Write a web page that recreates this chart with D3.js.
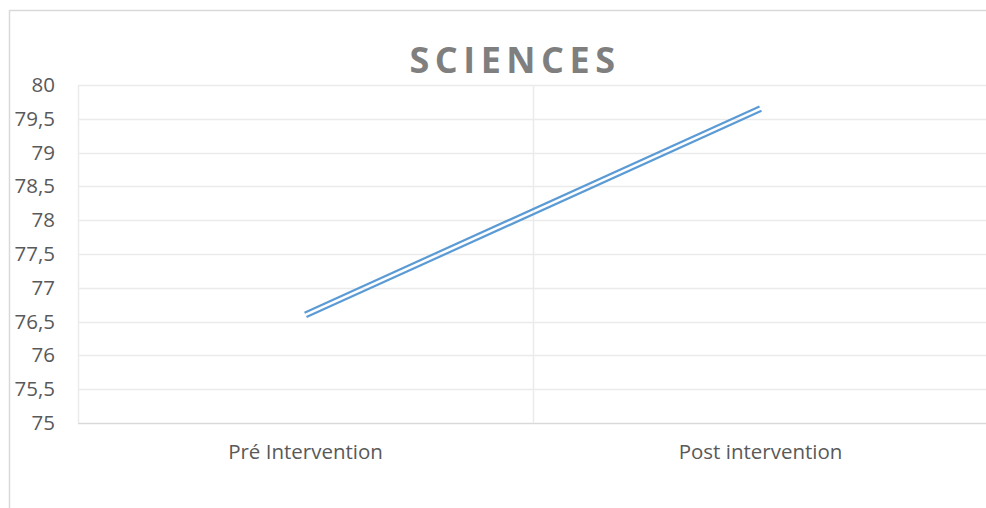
<!DOCTYPE html>
<html>
<head>
<meta charset="utf-8">
<script src="https://cdn.jsdelivr.net/npm/d3@7/dist/d3.min.js"></script>
<style>
  html, body { margin: 0; padding: 0; background: #fff; }
  svg { display: block; }
  text { font-family: "Open Sans", Lato, sans-serif; }
</style>
</head>
<body>
<svg id="chart" width="986" height="508"></svg>
<script>
// Scores in sciences before and after the intervention
const categories = ["Pré Intervention", "Post intervention"];
const scores = [76.6, 79.65];
const yTicks = [75, 75.5, 76, 76.5, 77, 77.5, 78, 78.5, 79, 79.5, 80];
const chartTitle = "SCIENCES";

const svg = d3.select("#chart");
const W = 986, H = 508;
const plot = { left: 78, right: 988, top: 85, bottom: 423 };

// Chart area frame
svg.append("path")
  .attr("d", `M9.5,${H} V10.5 H${W + 2}`)
  .attr("fill", "none")
  .attr("stroke", "#d9d9d9")
  .attr("stroke-width", 1.5);

const x = d3.scaleBand().domain(categories).range([plot.left, plot.right]).padding(0);
const y = d3.scaleLinear().domain([75, 80]).range([plot.bottom, plot.top]);

// Horizontal gridlines
svg.append("g")
  .selectAll("line")
  .data(yTicks)
  .join("line")
  .attr("x1", plot.left).attr("x2", plot.right)
  .attr("y1", d => Math.round(y(d)) + 0.5).attr("y2", d => Math.round(y(d)) + 0.5)
  .attr("stroke", d => d === 75 ? "#d9d9d9" : "#ebebeb")
  .attr("stroke-width", 1.5);

// Vertical category dividers
const dividers = categories.map(c => x(c)).concat([plot.right]);
svg.append("g")
  .selectAll("line")
  .data(dividers)
  .join("line")
  .attr("x1", d => Math.round(d) + 0.5).attr("x2", d => Math.round(d) + 0.5)
  .attr("y1", plot.top).attr("y2", plot.bottom)
  .attr("stroke", "#ebebeb")
  .attr("stroke-width", 1.5);

// Y axis labels
const yAxis = d3.axisLeft(y)
  .tickValues(yTicks)
  .tickSize(0)
  .tickPadding(23)
  .tickFormat(d => String(d).replace(".", ","));
const gy = svg.append("g").attr("transform", `translate(${plot.left},0)`).call(yAxis);
gy.select(".domain").remove();
gy.selectAll("text")
  .attr("fill", "#595959")
  .style("font-size", "20.5px");

// X axis labels
const xAxis = d3.axisBottom(x).tickSize(0).tickPadding(21);
const gx = svg.append("g").attr("transform", `translate(0,${plot.bottom})`).call(xAxis);
gx.select(".domain").remove();
gx.selectAll("text")
  .attr("fill", "#595959")
  .style("font-size", "20.5px");

// Series drawn as a double-stroke line
const pts = categories.map((c, i) => [x(c) + x.bandwidth() / 2, y(scores[i])]);
const dx = pts[1][0] - pts[0][0], dy = pts[1][1] - pts[0][1];
const len = Math.hypot(dx, dy);
const nx = -dy / len, ny = dx / len;
const gap = 2.4;
const line = d3.line();
[-1, 1].forEach(s => {
  svg.append("path")
    .attr("d", line(pts.map(p => [p[0] + s * gap * nx, p[1] + s * gap * ny])))
    .attr("fill", "none")
    .attr("stroke", "#5b9bd5")
    .attr("stroke-width", 2.2);
});

// Title
svg.append("text")
  .attr("x", 515)
  .attr("y", 73)
  .attr("text-anchor", "middle")
  .attr("fill", "#7f7f7f")
  .style("font-size", "36px")
  .style("font-weight", "bold")
  .style("letter-spacing", "5.5px")
  .text(chartTitle);
</script>
</body>
</html>
